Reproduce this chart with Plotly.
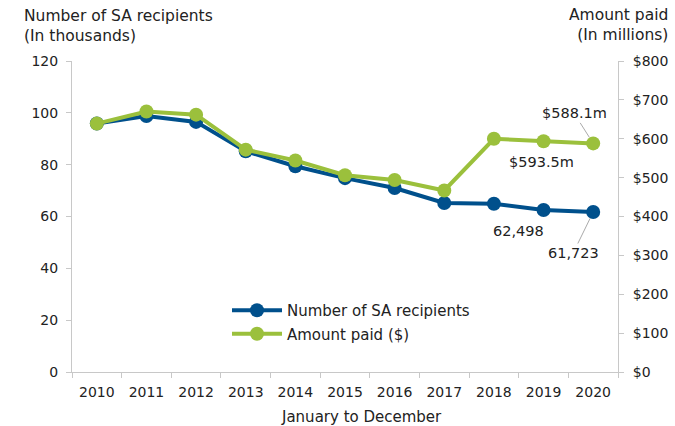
import plotly.graph_objects as go

years = ["2010", "2011", "2012", "2013", "2014", "2015", "2016", "2017", "2018", "2019", "2020"]
recipients = [95.9, 98.8, 96.5, 85.2, 79.4, 74.8, 71.0, 65.2, 64.9, 62.498, 61.723]
amount_paid = [639, 670, 662, 572, 544, 506, 494, 467, 600, 593.5, 588.1]

BLUE = "#00508C"
GREEN = "#9BC03C"
FONT = "DejaVu Sans"
TXT = "#222222"
AXC = "#c8c8c8"

L, R, T, B = 72, 57, 61, 54
PW = 675 - L - R
PH = 426 - T - B

def px(pix):
    return (pix - L) / PW

def py(pix):
    return (426 - B - pix) / PH

fig = go.Figure()
fig.add_trace(go.Scatter(
    x=years, y=recipients, name="Number of SA recipients", mode="lines+markers",
    line=dict(color=BLUE, width=4), marker=dict(size=14, color=BLUE),
    legendgroup="a", yaxis="y"))
fig.add_trace(go.Scatter(
    x=years, y=amount_paid, name="Amount paid ($)", mode="lines+markers",
    line=dict(color=GREEN, width=4), marker=dict(size=14, color=GREEN),
    legendgroup="b", yaxis="y2"))

fig.update_layout(
    width=675, height=426,
    margin=dict(l=L, r=R, t=T, b=B, autoexpand=False),
    paper_bgcolor="white", plot_bgcolor="white",
    font=dict(family=FONT, size=14, color=TXT),
    showlegend=True,
    legend=dict(x=px(227), y=py(294), xanchor="left", yanchor="top",
                font=dict(size=15, color=TXT), bgcolor="rgba(0,0,0,0)",
                itemwidth=50, tracegroupgap=1, traceorder="grouped"),
    xaxis=dict(type="category", range=[-0.5, 10.5], showgrid=False,
               showline=True, linecolor=AXC, linewidth=1,
               ticks="outside", tickson="boundaries", ticklen=5, tickcolor=AXC,
               ticklabelstandoff=7, tickfont=dict(size=14, color=TXT)),
    yaxis=dict(range=[0, 120], dtick=20, showgrid=False, zeroline=False,
               showline=True, linecolor=AXC, linewidth=1,
               ticks="outside", ticklen=5, tickcolor=AXC, ticklabelstandoff=5,
               tickfont=dict(size=14, color=TXT)),
    yaxis2=dict(range=[0, 800], dtick=100, tickprefix="$", overlaying="y", side="right",
                showgrid=False, zeroline=False,
                showline=True, linecolor=AXC, linewidth=1,
                ticks="outside", ticklen=5, tickcolor=AXC, ticklabelstandoff=6,
                tickfont=dict(size=14, color=TXT)),
)

fig.add_annotation(x=px(22), y=py(26), xref="paper", yref="paper", xanchor="left", yanchor="middle",
                   align="left", showarrow=False,
                   text="Number of SA recipients<br>(In thousands)", font=dict(size=15.5, color=TXT))
fig.add_annotation(x=px(670), y=py(25), xref="paper", yref="paper", xanchor="right", yanchor="middle",
                   align="right", showarrow=False,
                   text="Amount paid<br>(In millions)", font=dict(size=15.5, color=TXT))
fig.add_annotation(x=px(361), y=py(417), xref="paper", yref="paper", xanchor="center", yanchor="middle",
                   showarrow=False, text="January to December", font=dict(size=15, color=TXT))

fig.add_annotation(x=10, y=amount_paid[10], yref="y2", text="$588.1m", showarrow=True,
                   ax=-19, ay=-30, arrowhead=0, arrowwidth=1, arrowcolor="#aaaaaa", standoff=7,
                   font=dict(size=14.5, color=TXT))
fig.add_annotation(x=9, y=amount_paid[9], yref="y2", text="$593.5m", showarrow=False,
                   xshift=-2, yshift=-21, font=dict(size=14.5, color=TXT))
fig.add_annotation(x=9, y=recipients[9], yref="y", text="62,498", showarrow=False,
                   xshift=-25, yshift=-21, font=dict(size=14.5, color=TXT))
fig.add_annotation(x=10, y=recipients[10], yref="y", text="61,723", showarrow=True,
                   ax=-20, ay=41, arrowhead=0, arrowwidth=1, arrowcolor="#aaaaaa", standoff=7,
                   font=dict(size=14.5, color=TXT))

fig.write_html("out.html", config={"displayModeBar": False},
               post_script="document.body.style.margin='0';")
